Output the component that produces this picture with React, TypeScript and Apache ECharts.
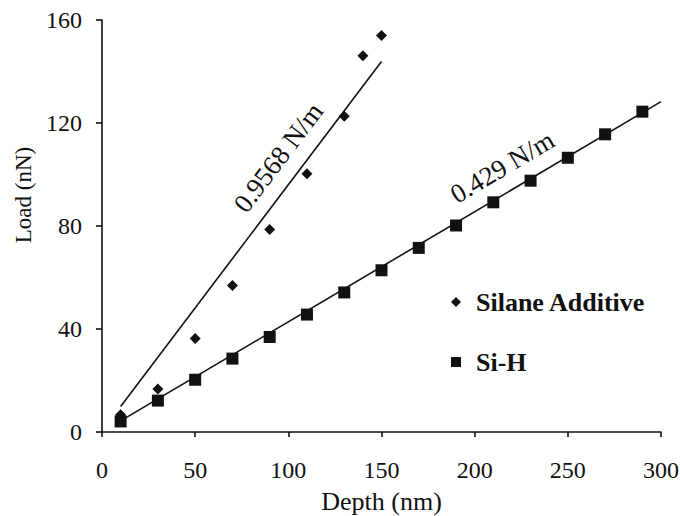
import React, { useEffect, useRef } from "react";
import * as echarts from "echarts";

// Silane Additive (diamonds)
const depthSilane = [10, 30, 50, 70, 90, 110, 130, 140, 150];
const loadSilane = [6.7, 16.7, 36.3, 56.9, 78.6, 100.3, 122.6, 146.1, 154.0];
// Si-H (squares)
const depthSiH = [10, 30, 50, 70, 90, 110, 130, 150, 170, 190, 210, 230, 250, 270, 290];
const loadSiH = [4.1, 12.2, 20.3, 28.5, 36.9, 45.6, 54.2, 62.8, 71.5, 80.2, 89.2, 97.6, 106.5, 115.6, 124.4];
// Linear fit end points
const fitSilaneX = [10, 150];
const fitSilaneY = [9.9, 143.9];
const fitSiHX = [10, 300];
const fitSiHY = [4.3, 128.3];
// Slope annotations
const annotationTexts = ["0.9568 N/m", "0.429 N/m"];
const annotationX = [94.6, 214.8];
const annotationY = [106.6, 102.9];
const annotationAngles = [53, 30.7];

const seriesNames = ["Silane Additive", "Si-H"];
const xAxisTitle = "Depth (nm)";
const yAxisTitle = "Load (nN)";

const FONT = '"Liberation Serif", "Times New Roman", serif';
const INK = "#111";

export default function App() {
  const ref = useRef<HTMLDivElement>(null);
  useEffect(() => {
    if (!ref.current) return;
    const chart = echarts.init(ref.current, undefined, { renderer: "svg" });
    const pair = (xs: number[], ys: number[]) => xs.map((x, i) => [x, ys[i]]);
    chart.setOption({
      animation: false,
      textStyle: { fontFamily: FONT, color: INK },
      grid: { left: 102, right: 19, top: 20, bottom: 84, containLabel: false, outerBoundsMode: "none" },
      xAxis: {
        type: "value",
        min: 0,
        max: 300,
        interval: 50,
        splitLine: { show: false },
        axisLine: { lineStyle: { color: INK, width: 1.6 } },
        axisTick: { show: true, length: 5, lineStyle: { color: INK, width: 1.6 } },
        axisLabel: { fontSize: 24, color: INK, margin: 26, fontFamily: FONT },
        name: xAxisTitle,
        nameLocation: "middle",
        nameGap: 56,
        nameTextStyle: { fontSize: 26, color: INK, fontFamily: FONT },
      },
      yAxis: {
        type: "value",
        min: 0,
        max: 160,
        interval: 40,
        splitLine: { show: false },
        axisLine: { show: true, lineStyle: { color: INK, width: 1.6 } },
        axisTick: { show: true, length: 6, lineStyle: { color: INK, width: 1.6 } },
        axisLabel: { fontSize: 24, color: INK, margin: 20, fontFamily: FONT },
        name: yAxisTitle,
        nameLocation: "middle",
        nameGap: 59,
        nameTextStyle: { fontSize: 23, color: INK, fontFamily: FONT, padding: [0, 0, 0, 62] },
      },
      legend: {
        data: [
          { name: seriesNames[0], icon: "diamond" },
          { name: seriesNames[1], icon: "rect" },
        ],
        orient: "vertical",
        left: 446,
        top: 284,
        itemWidth: 10,
        itemHeight: 10,
        itemGap: 34,
        textStyle: {
          fontSize: 26,
          fontWeight: "bold",
          color: INK,
          fontFamily: FONT,
          lineHeight: 26,
          padding: [0, 0, 0, 10],
        },
      },
      series: [
        {
          name: "fitSilane",
          type: "line",
          data: pair(fitSilaneX, fitSilaneY),
          symbol: "none",
          lineStyle: { color: INK, width: 1.6 },
          z: 1,
        },
        {
          name: "fitSiH",
          type: "line",
          data: pair(fitSiHX, fitSiHY),
          symbol: "none",
          lineStyle: { color: INK, width: 1.6 },
          z: 1,
        },
        {
          name: seriesNames[0],
          type: "scatter",
          symbol: "diamond",
          symbolSize: 11,
          itemStyle: { color: INK, opacity: 1 },
          data: pair(depthSilane, loadSilane),
          z: 3,
        },
        {
          name: seriesNames[1],
          type: "scatter",
          symbol: "rect",
          symbolSize: 12,
          itemStyle: { color: INK, opacity: 1 },
          data: pair(depthSiH, loadSiH),
          z: 3,
        },
      ],
    });
    const graphics = annotationTexts.map((t, i) => {
      const p = chart.convertToPixel({ gridIndex: 0 }, [annotationX[i], annotationY[i]]) as number[];
      return {
        type: "text",
        x: p[0],
        y: p[1],
        rotation: (annotationAngles[i] * Math.PI) / 180,
        style: {
          text: t,
          fontSize: 27,
          fontFamily: FONT,
          fill: INK,
          align: "center",
          verticalAlign: "middle",
        },
      };
    });
    chart.setOption({ graphic: graphics });
    return () => chart.dispose();
  }, []);
  return <div ref={ref} style={{ width: 680, height: 516, position: "absolute", left: 0, top: 0 }} />;
}
